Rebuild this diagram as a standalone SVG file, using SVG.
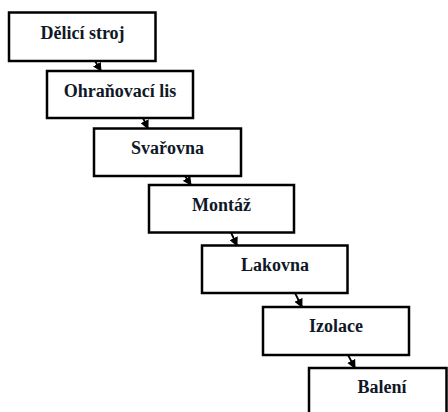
<svg xmlns="http://www.w3.org/2000/svg" width="448" height="412" viewBox="0 0 448 412">
<style>
.box{fill:#fff;stroke:#000;stroke-width:2.5}
.lbl{font-family:"Liberation Serif","Times New Roman",serif;font-weight:bold;font-size:18px;fill:#101828;text-anchor:middle}
.con{stroke:#000;stroke-width:1.8;fill:none;marker-end:url(#ah)}
</style>
<defs>
<marker id="ah" markerUnits="userSpaceOnUse" markerWidth="9" markerHeight="9" viewBox="0 0 9 9" refX="8" refY="4.5" orient="auto">
<path d="M0,0 L9,4.5 L0,9 Z" fill="#000"/>
</marker>
</defs>
<rect width="448" height="412" fill="#fff"/>
<g id="n1"><rect class="box" x="9" y="12.5" width="146.5" height="48.5"/><text class="lbl" x="82.5" y="38.5">Dělicí stroj</text></g>
<g id="n2"><rect class="box" x="47" y="71" width="146" height="47"/><text class="lbl" x="120" y="96.5">Ohraňovací lis</text></g>
<g id="n3"><rect class="box" x="94" y="128.5" width="147" height="47.5"/><text class="lbl" x="167.5" y="153.5">Svařovna</text></g>
<g id="n4"><rect class="box" x="149" y="185" width="145" height="47.5"/><text class="lbl" x="221.5" y="211">Montáž</text></g>
<g id="n5"><rect class="box" x="202" y="245.5" width="145.5" height="47.5"/><text class="lbl" x="275" y="271">Lakovna</text></g>
<g id="n6"><rect class="box" x="263" y="307" width="146" height="48"/><text class="lbl" x="336" y="332">Izolace</text></g>
<g id="n7"><rect class="box" x="309" y="368" width="137.5" height="60"/><text class="lbl" x="382" y="393">Balení</text></g>
<g id="connectors">
<line class="con" x1="95" y1="61" x2="101" y2="71"/>
<line class="con" x1="143" y1="118" x2="148" y2="128.5"/>
<line class="con" x1="185" y1="176" x2="191" y2="185"/>
<line class="con" x1="231" y1="232.5" x2="237" y2="245.5"/>
<line class="con" x1="295" y1="293" x2="302" y2="307"/>
<line class="con" x1="348" y1="355" x2="355" y2="368"/>
</g>
</svg>
